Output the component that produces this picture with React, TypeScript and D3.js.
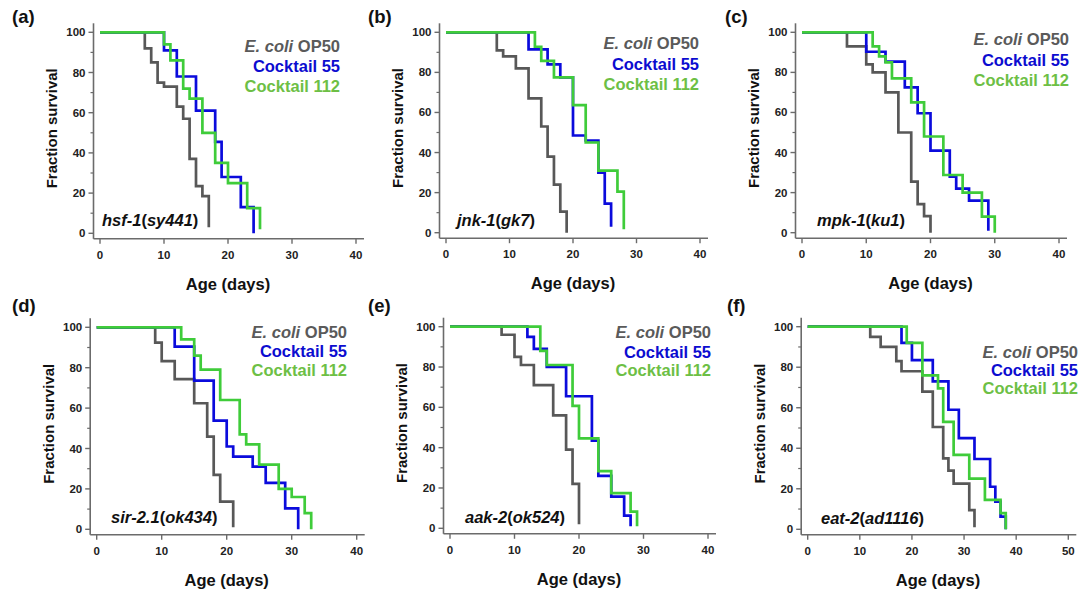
import React from 'react';
import * as d3 from 'd3';

type Pt = [number, number];

// ---------- labels / ticks ----------
const panelLabels = ['(a)', '(b)', '(c)', '(d)', '(e)', '(f)'];
const genes = ['hsf-1', 'jnk-1', 'mpk-1', 'sir-2.1', 'aak-2', 'eat-2'];
const alleles = ['sy441', 'gk7', 'ku1', 'ok434', 'ok524', 'ad1116'];
const xMaxes = [40, 40, 40, 40, 40, 50];
const xTicks40 = [0, 10, 20, 30, 40];
const xTicks50 = [0, 10, 20, 30, 40, 50];
const yTicks = [0, 20, 40, 60, 80, 100];
const yMinorTicks = [10, 30, 50, 70, 90];
const seriesColors = ['#585858', '#0b0bdc', '#3fcc3a'];
const legendColors = ['#5a5a5a', '#0c0cd0', '#6dbf45'];

// ---------- data: [day, % surviving] ----------
const aOP50: Pt[] = [[0, 100], [7, 92], [8, 85], [9, 75], [10, 73], [12, 63], [13, 57], [14, 37], [15, 23.5], [16, 18.5], [17, 3]];
const aC55: Pt[] = [[0, 100], [10, 91], [12, 78], [15, 61], [18, 45.5], [19, 28], [22, 13], [24, 0]];
const aC112: Pt[] = [[0, 100], [10, 94], [11, 86], [13, 72], [14, 67], [16, 50], [18, 35], [20, 25], [23, 12.5], [25, 2]];

const bOP50: Pt[] = [[0, 100], [8, 91], [9, 88], [11, 82], [13, 67], [15, 53], [16, 38], [17, 24], [18, 10.5], [19, 0]];
const bC55: Pt[] = [[0, 100], [13, 91.5], [16, 84], [18, 77.5], [20, 48.5], [22, 46], [24, 30], [25, 14.5], [26, 3]];
const bC112: Pt[] = [[0, 100], [14, 92.8], [15, 85.7], [17, 77.5], [20, 63.7], [22, 45], [24, 31], [27, 20.5], [28, 1.7]];

const cOP50: Pt[] = [[0, 100], [7, 93], [10, 84], [11, 80], [13, 70], [15, 50], [17, 25.5], [18, 14.3], [19, 8.3], [20, 0]];
const cC55: Pt[] = [[0, 100], [10, 90.3], [13, 85.4], [16, 72.5], [18, 59.6], [20, 41], [23, 28], [24, 22], [26, 16], [29, 1]];
const cC112: Pt[] = [[0, 100], [11, 93], [12, 88], [13, 85], [14, 77], [17, 65], [19, 48], [22, 28.8], [25, 20], [28, 8], [30, 0]];

const dOP50: Pt[] = [[0, 100], [9, 92.4], [10, 83.3], [12, 74.3], [15, 62.4], [17, 45.9], [18, 26.9], [19, 13.7], [21, 1]];
const dC55: Pt[] = [[0, 100], [12, 90.4], [15, 73.6], [18, 53.8], [20, 41], [21, 36], [24, 31], [26, 23], [29, 10.4], [31, 0]];
const dC112: Pt[] = [[0, 100], [13, 94], [15, 86], [16, 79], [19, 64], [22, 47], [23, 42], [25, 32], [28, 20], [30, 16], [32, 8], [33, 0]];

const eOP50: Pt[] = [[0, 100], [8, 96], [10, 85], [11, 81], [13, 71], [16, 56], [18, 39], [19, 22], [20, 2]];
const eC55: Pt[] = [[0, 100], [12, 95], [13, 89], [15, 80], [18, 65.5], [22, 43.5], [23, 26], [25, 15.7], [27, 6.3], [28, 1]];
const eC112: Pt[] = [[0, 100], [14, 88], [15, 81], [19, 60.7], [20, 44.6], [23, 28.4], [25, 17.4], [28, 8.3], [29, 1]];

const fOP50: Pt[] = [[0, 100], [12, 95], [14, 90], [17, 83], [18, 78], [22, 68], [24, 50.5], [26, 35], [27, 29], [28, 22.5], [31, 9.5], [32, 1]];
const fC55: Pt[] = [[0, 100], [18, 92], [20, 83.5], [24, 73], [27, 59], [29, 45], [32, 34.7], [35, 21], [36, 13.7], [37, 6.3], [38, 0]];
const fC112: Pt[] = [[0, 100], [19, 92], [22, 76], [25, 69.6], [26, 53], [28, 36.7], [31, 25], [34, 14.5], [37, 8], [38, 0]];

const panelSeries: Pt[][][] = [
  [aOP50, aC55, aC112],
  [bOP50, bC55, bC112],
  [cOP50, cC55, cC112],
  [dOP50, dC55, dC112],
  [eOP50, eC55, eC112],
  [fOP50, fC55, fC112],
];

// ---------- layout (pixels) ----------
const layout = [
  { x0: 100, x1: 356, yTop: 32.3, yBot: 233.3, labelX: 12, labelY: 17, strainX: 102, strainY: 220, legendX: 340, legendY: [46, 66, 86] },
  { x0: 446, x1: 700, yTop: 32.3, yBot: 232.7, labelX: 368, labelY: 17, strainX: 457, strainY: 220, legendX: 699, legendY: [43, 64, 84] },
  { x0: 802, x1: 1059, yTop: 32.3, yBot: 232.7, labelX: 725, labelY: 17, strainX: 817, strainY: 220, legendX: 1069, legendY: [39, 60, 80] },
  { x0: 96.7, x1: 356.7, yTop: 327.3, yBot: 529.3, labelX: 12, labelY: 306, strainX: 111, strainY: 517, legendX: 347, legendY: [332, 351, 370] },
  { x0: 450, x1: 708, yTop: 326.7, yBot: 528.3, labelX: 368, labelY: 306, strainX: 465, strainY: 517, legendX: 711, legendY: [332, 352, 370] },
  { x0: 807.7, x1: 1068.3, yTop: 326.7, yBot: 529.3, labelX: 727, labelY: 306, strainX: 821, strainY: 518, legendX: 1078, legendY: [352, 370, 388] },
];

const FONT = "Arial, 'Liberation Sans', Helvetica, sans-serif";
const AXIS = '#6b6b6b';

function Panel({ i }: { i: number }) {
  const L = layout[i];
  const xMax = xMaxes[i];
  const x = d3.scaleLinear().domain([0, xMax]).range([L.x0, L.x1]);
  const y = d3.scaleLinear().domain([0, 100]).range([L.yBot, L.yTop]);
  const xTicks = xMax === 50 ? xTicks50 : xTicks40;
  const line = d3
    .line<Pt>()
    .x((d) => x(d[0]))
    .y((d) => y(d[1]))
    .curve(d3.curveStepAfter);
  const axisX = L.x0 - 6.5;
  const axisY = L.yBot + 5.5;
  const xEnd = x(xMax) + 8;
  const yTopEnd = L.yTop - 9;
  const midX = (L.x0 + L.x1) / 2;
  const midY = (L.yTop + L.yBot) / 2 - 4.5;
  return (
    <g>
      {/* panel label */}
      <text x={L.labelX} y={L.labelY + 6} fontSize={18.5} fontWeight="bold" fill="#111">
        {panelLabels[i]}
      </text>
      {/* axes */}
      <line x1={axisX} x2={axisX} y1={axisY} y2={yTopEnd} stroke={AXIS} strokeWidth={1.6} />
      <line x1={axisX} x2={xEnd} y1={axisY} y2={axisY} stroke={AXIS} strokeWidth={1.6} />
      {yTicks.map((t) => (
        <g key={'y' + t}>
          <line x1={axisX - 5} x2={axisX} y1={y(t)} y2={y(t)} stroke={AXIS} strokeWidth={1.4} />
          <text x={axisX - 8} y={y(t) + 4} fontSize={11.5} fontWeight="bold" textAnchor="end" fill="#222">
            {t}
          </text>
        </g>
      ))}
      {yMinorTicks.map((t) => (
        <line key={'ym' + t} x1={axisX - 3} x2={axisX} y1={y(t)} y2={y(t)} stroke={AXIS} strokeWidth={1.2} />
      ))}
      {xTicks.map((t) => (
        <g key={'x' + t}>
          <line x1={x(t)} x2={x(t)} y1={axisY} y2={axisY + 5} stroke={AXIS} strokeWidth={1.4} />
          <text x={x(t)} y={axisY + 20} fontSize={11.5} fontWeight="bold" textAnchor="middle" fill="#222">
            {t}
          </text>
        </g>
      ))}
      {/* axis titles */}
      <text
        x={0}
        y={0}
        transform={`translate(${L.x0 - 43},${midY}) rotate(-90)`}
        fontSize={15}
        fontWeight="bold"
        textAnchor="middle"
        fill="#111"
      >
        Fraction survival
      </text>
      <text x={midX} y={axisY + 51} fontSize={16.5} fontWeight="bold" textAnchor="middle" fill="#111">
        Age (days)
      </text>
      {/* survival curves */}
      {panelSeries[i].map((s, k) => (
        <path key={k} d={line(s) || ''} fill="none" stroke={seriesColors[k]} strokeWidth={2.7} strokeLinejoin="miter" />
      ))}
      {/* strain label */}
      <text x={L.strainX} y={L.strainY + 6} fontSize={16.5} fontWeight="bold" fill="#111">
        <tspan fontStyle="italic">{genes[i]}</tspan>
        <tspan>(</tspan>
        <tspan fontStyle="italic">{alleles[i]}</tspan>
        <tspan>)</tspan>
      </text>
      {/* legend */}
      <text x={L.legendX} y={L.legendY[0] + 6} fontSize={16.5} fontWeight="bold" textAnchor="end" fill={legendColors[0]}>
        <tspan fontStyle="italic">E. coli</tspan>
        <tspan> OP50</tspan>
      </text>
      <text x={L.legendX} y={L.legendY[1] + 6} fontSize={16.5} fontWeight="bold" textAnchor="end" fill={legendColors[1]}>
        Cocktail 55
      </text>
      <text x={L.legendX} y={L.legendY[2] + 6} fontSize={16.5} fontWeight="bold" textAnchor="end" fill={legendColors[2]}>
        Cocktail 112
      </text>
    </g>
  );
}

export default function App() {
  return (
    <svg
      width={1082}
      height={593}
      viewBox="0 0 1082 593"
      style={{ position: 'absolute', left: 0, top: 0, background: '#fff', fontFamily: FONT }}
    >
      <rect width={1082} height={593} fill="#fff" />
      {layout.map((_, i) => (
        <Panel key={i} i={i} />
      ))}
    </svg>
  );
}
